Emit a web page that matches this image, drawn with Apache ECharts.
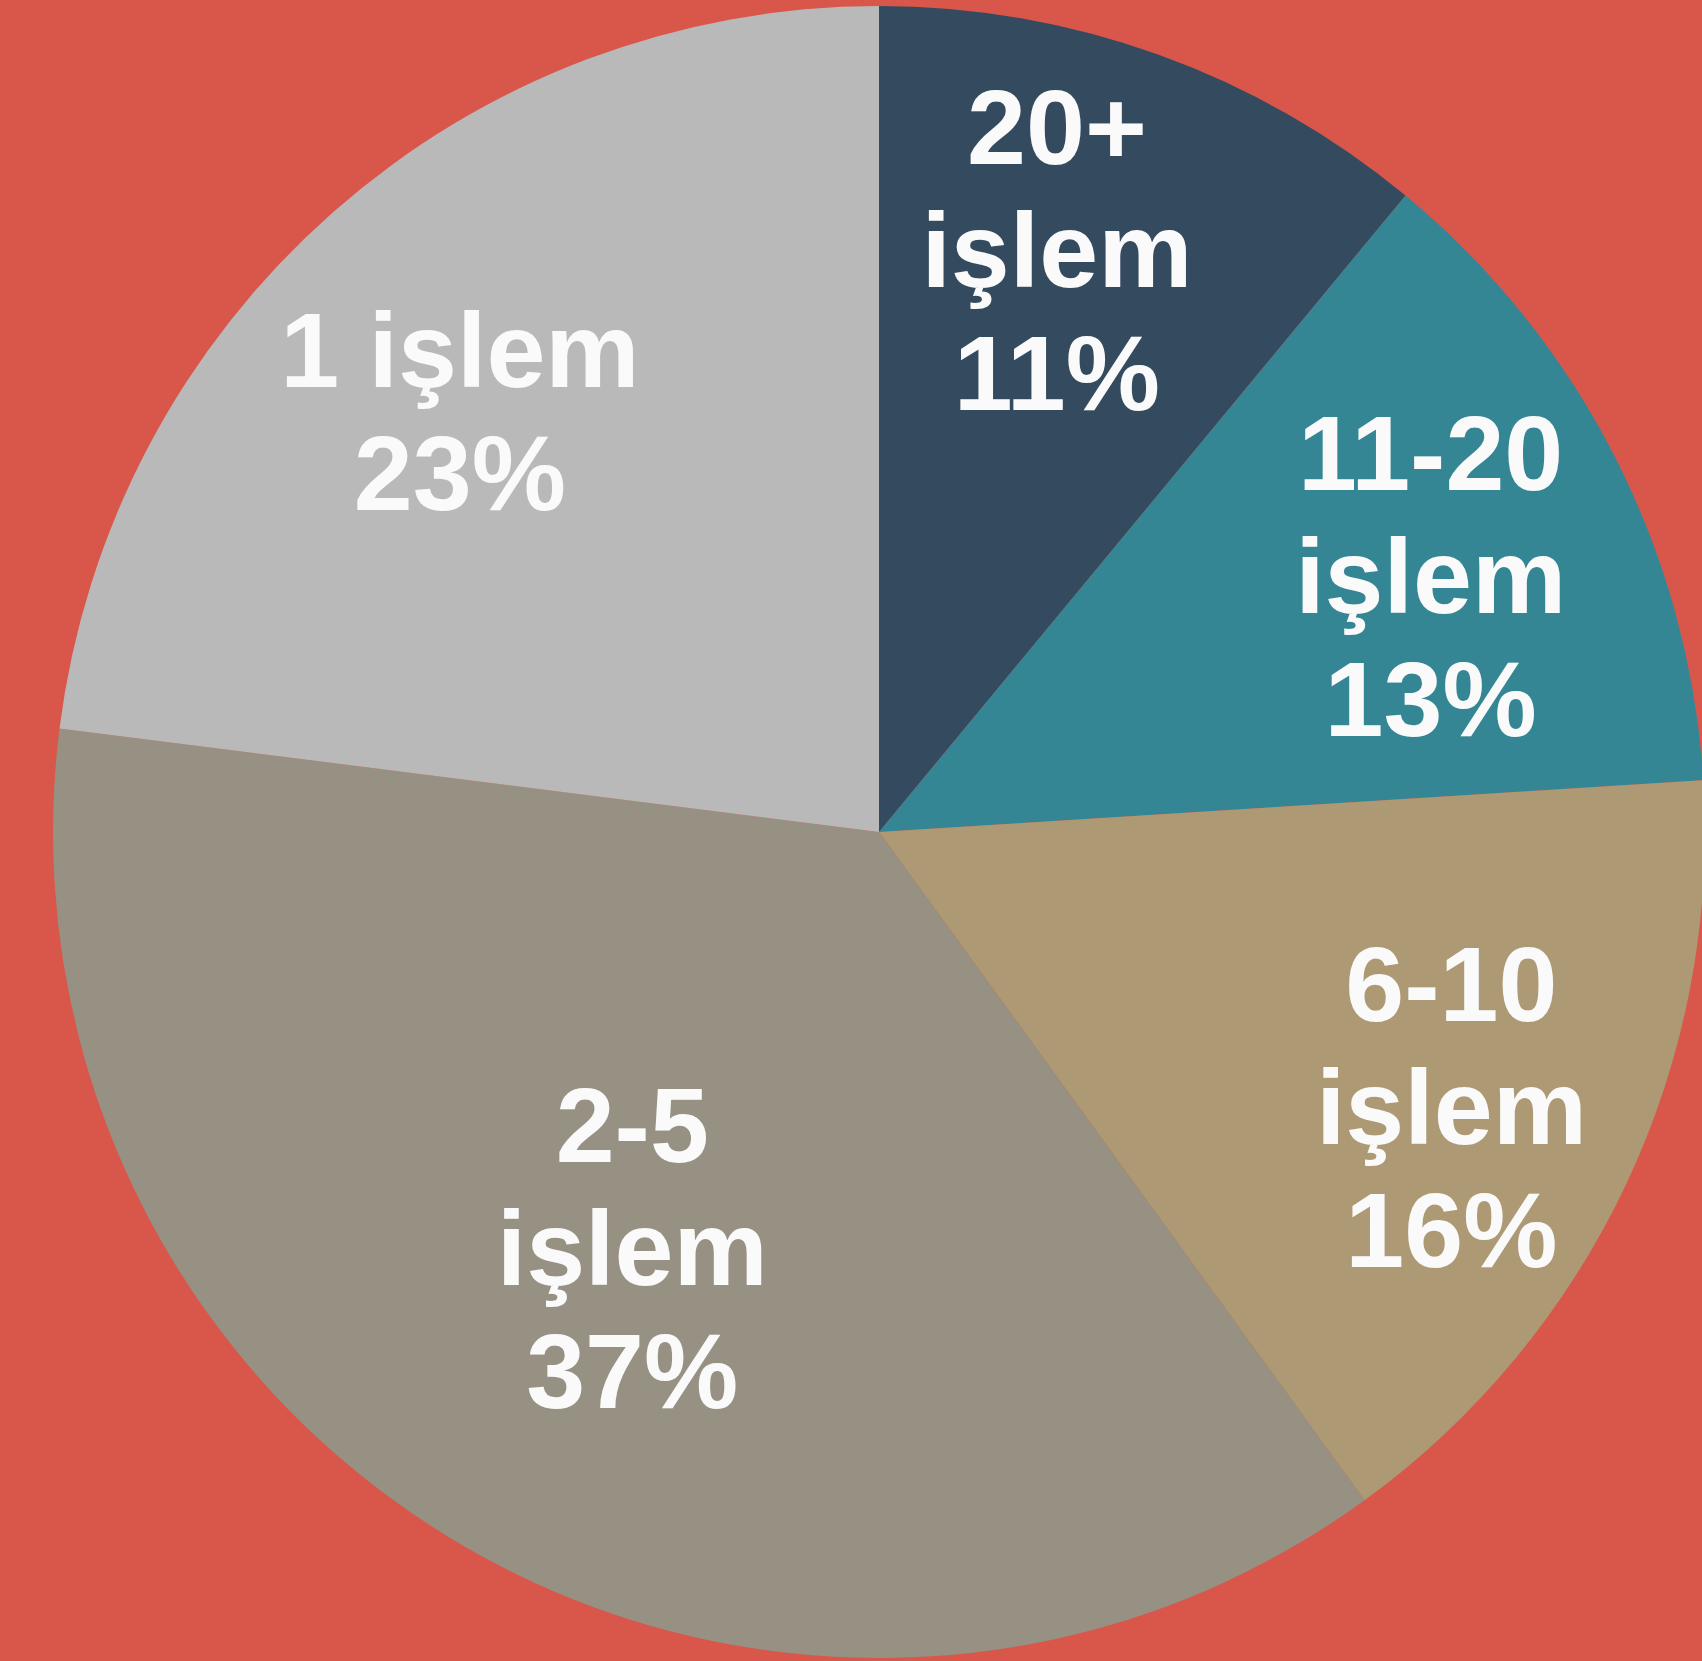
<!DOCTYPE html>
<html>
<head>
<meta charset="utf-8">
<script src="https://cdn.jsdelivr.net/npm/echarts@6/dist/echarts.min.js"></script>
<style>
  html, body { margin: 0; padding: 0; background: #D9574A; }
  #main { width: 1702px; height: 1661px; }
</style>
</head>
<body>
<div id="main"></div>
<script>
// dilimler, saat yönünde tepeden başlayarak
const categories = ['20+\nişlem', '11-20\nişlem', '6-10\nişlem', '2-5\nişlem', '1 işlem'];
const shares = [11, 13, 16, 37, 23];
const colors = ['#344A5F', '#358694', '#AD9973', '#979183', '#B9B9B9'];
// etiketlerin varsayılan iç konumdan kayması
const labelOffsets = [[37, -183], [181, -59], [196, 106], [-35, 66], [-144, -101]];

var myChart = echarts.init(document.getElementById('main'));
var option = {
  backgroundColor: '#D9574A',
  animation: false,
  series: [
    {
      type: 'pie',
      center: [879, 832],
      radius: 826,
      startAngle: 90,
      clockwise: true,
      silent: true,
      itemStyle: { borderWidth: 0 },
      label: {
        show: true,
        position: 'inside',
        formatter: '{b}\n{c}%',
        color: '#FAFAFA',
        fontFamily: '"Liberation Sans", Arial, sans-serif',
        fontWeight: 'bold',
        fontSize: 106,
        lineHeight: 123,
        align: 'center'
      },
      labelLine: { show: false },
      data: categories.map(function (name, i) {
        return {
          name: name,
          value: shares[i],
          itemStyle: { color: colors[i] },
          label: { offset: labelOffsets[i] }
        };
      })
    }
  ]
};
myChart.setOption(option);
</script>
</body>
</html>
